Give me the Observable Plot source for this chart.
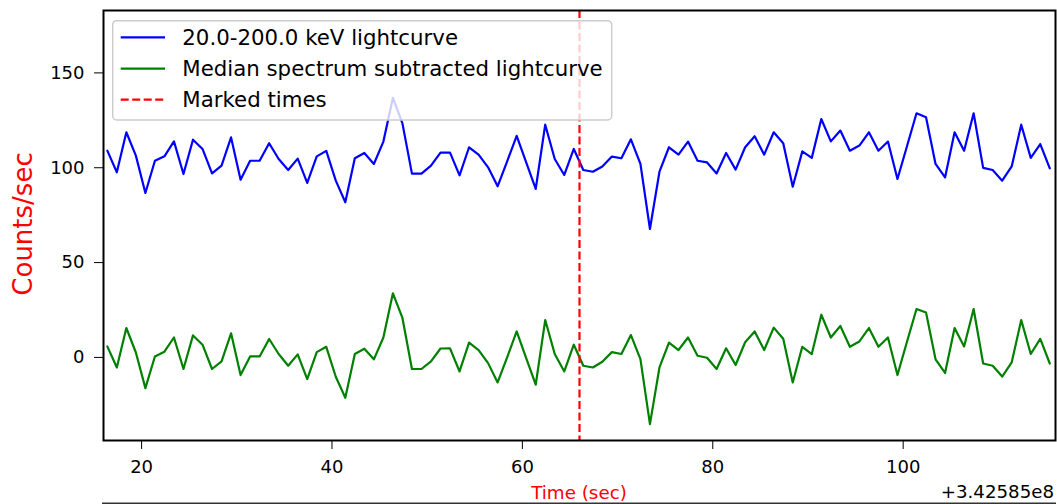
<!DOCTYPE html>
<html>
<head>
<meta charset="utf-8">
<script src="https://cdn.jsdelivr.net/npm/d3@7"></script>
<script src="https://cdn.jsdelivr.net/npm/@observablehq/plot@0.6"></script>
<style>
  html, body { margin: 0; padding: 0; background: #fff; }
  #chart { width: 1057px; height: 504px; overflow: hidden; }
</style>
</head>
<body>
<div id="chart"></div>
<script>
const times = [16.4,17.4,18.4,19.4,20.4,21.4,22.4,23.4,24.4,25.4,26.4,27.4,28.4,29.4,30.4,31.4,32.4,33.4,34.4,35.4,
  36.4,37.4,38.4,39.4,40.4,41.4,42.4,43.4,44.4,45.4,46.4,47.4,48.4,49.4,50.4,51.4,52.4,53.4,54.4,55.4,
  56.4,57.4,58.4,59.4,60.4,61.4,62.4,63.4,64.4,65.4,66.4,67.4,68.4,69.4,70.4,71.4,72.4,73.4,74.4,75.4,
  76.4,77.4,78.4,79.4,80.4,81.4,82.4,83.4,84.4,85.4,86.4,87.4,88.4,89.4,90.4,91.4,92.4,93.4,94.4,95.4,
  96.4,97.4,98.4,99.4,100.4,101.4,102.4,103.4,104.4,105.4,106.4,107.4,108.4,109.4,110.4,111.4,112.4,113.4,114.4,115.4];

const lightcurve = [109.0,97.6,118.7,106.4,86.7,103.7,106.0,113.9,96.7,114.8,109.9,97.0,101.1,116.0,93.7,103.7,103.7,112.9,104.6,98.8,
  104.8,92.0,106.0,108.9,93.2,81.8,105.0,107.8,102.0,113.8,136.8,123.4,96.9,96.9,101.1,108.0,108.0,96.0,110.8,106.9,
  100.2,90.2,103.4,116.8,102.8,88.8,122.7,104.6,96.2,109.9,98.8,97.9,100.7,105.9,105.0,115.0,102.0,67.7,97.9,110.8,
  106.9,113.8,103.7,102.8,97.0,107.8,99.0,110.8,116.6,106.9,118.7,112.9,90.0,108.6,105.2,125.7,113.9,119.6,109.0,111.7,
  118.7,109.0,113.8,94.1,111.3,128.7,126.6,102.0,94.9,118.7,109.0,128.7,99.9,98.8,93.2,100.7,122.7,105.2,112.5,99.7];

const subtracted = [5.8,-5.3,15.5,2.6,-16.2,0.5,3.0,10.5,-6.1,11.6,6.7,-6.1,-2.1,12.7,-9.3,0.5,0.5,9.7,1.8,-4.4,
  1.6,-11.4,2.8,5.6,-10.2,-21.3,1.8,4.6,-1.0,10.5,33.8,20.8,-6.1,-6.1,-2.1,4.7,4.8,-7.4,7.8,3.9,
  -3.0,-13.2,0.0,13.7,-0.4,-14.4,19.7,1.8,-7.4,6.7,-4.4,-5.3,-2.3,2.8,1.8,11.8,-0.9,-35.2,-5.3,7.8,
  3.9,10.5,0.9,-0.2,-6.1,4.8,-4.0,8.0,13.7,3.9,15.7,9.8,-13.2,5.6,1.8,22.5,10.5,16.6,5.6,8.4,
  15.5,5.6,10.5,-9.3,8.3,25.5,23.7,-1.0,-8.2,15.5,5.8,25.5,-3.2,-4.4,-10.1,-2.6,19.7,1.8,9.8,-3.2];

const markedTimes = [66.0];
const xTicks = [20, 40, 60, 80, 100];
const yTicks = [0, 50, 100, 150];
const legendLabels = ["20.0-200.0 keV lightcurve", "Median spectrum subtracted lightcurve", "Marked times"];
const legendColors = ["#0000ff", "#008000", "#ff0000"];
const xLabel = "Time (sec)";
const yLabel = "Counts/sec";
const offsetText = "+3.42585e8";

const blueRows = times.map((t, i) => ({t, v: lightcurve[i]}));
const greenRows = times.map((t, i) => ({t, v: subtracted[i]}));

const W = 1057, H = 504;
const mL = 103, mR = 2, mT = 10, mB = 64;

const chart = Plot.plot({
  width: W,
  height: H,
  marginLeft: mL,
  marginRight: mR,
  marginTop: mT,
  marginBottom: mB,
  style: {fontFamily: "DejaVu Sans", fontSize: "18px", color: "black", background: "white"},
  x: {domain: [16.0, 116.0]},
  y: {domain: [-43.8, 182.9]},
  marks: [
    Plot.line(blueRows, {x: "t", y: "v", stroke: legendColors[0], strokeWidth: 2.2}),
    Plot.line(greenRows, {x: "t", y: "v", stroke: legendColors[1], strokeWidth: 2.2}),
    Plot.ruleX(markedTimes, {stroke: legendColors[2], strokeWidth: 2.2, strokeDasharray: "8,3.5"}),
    Plot.frame({stroke: "black", strokeWidth: 2}),
    Plot.axisX({ticks: xTicks, tickSize: 9, tickPadding: 11, label: null, fontSize: 18, tickFormat: d3.format("d")}),
    Plot.axisY({ticks: yTicks, tickSize: 9, tickPadding: 10, label: null, fontSize: 18, tickFormat: d3.format("d")})
  ]
});

document.getElementById("chart").appendChild(chart);

const svg = d3.select(chart);
// legend
const lg = svg.append("g").attr("font-family", "DejaVu Sans").attr("font-size", "21.3px").attr("text-anchor", "start");
lg.append("rect").attr("x", 112.7).attr("y", 20.7).attr("width", 499).attr("height", 99.3)
  .attr("rx", 4).attr("fill", "white").attr("fill-opacity", 0.8)
  .attr("stroke", "#cccccc").attr("stroke-width", 1.5);
const rowY = [37.3, 68.6, 99.6];
legendLabels.forEach((lab, i) => {
  lg.append("line").attr("x1", 120.7).attr("x2", 165).attr("y1", rowY[i]).attr("y2", rowY[i])
    .attr("stroke", legendColors[i]).attr("stroke-width", 2.2)
    .attr("stroke-dasharray", i === 2 ? "8,3.5" : null);
  lg.append("text").attr("x", 182.3).attr("y", rowY[i] + 7.8).attr("text-anchor", "start")
    .attr("fill", "black").text(lab);
});

// axis labels
svg.append("text").attr("transform", "translate(32,224) rotate(-90)")
  .attr("text-anchor", "middle").attr("font-family", "DejaVu Sans").attr("font-size", "26px")
  .attr("fill", "red").text(yLabel);
svg.append("text").attr("x", 579).attr("y", 499)
  .attr("text-anchor", "middle").attr("font-family", "DejaVu Sans").attr("font-size", "18.3px")
  .attr("fill", "red").text(xLabel);
svg.append("text").attr("x", 1054).attr("y", 498)
  .attr("text-anchor", "end").attr("font-family", "DejaVu Sans").attr("font-size", "18.2px")
  .attr("fill", "black").text(offsetText);
// top spine of the axes below (cropped)
svg.append("line").attr("x1", 102).attr("x2", 1056).attr("y1", 503.3).attr("y2", 503.3)
  .attr("stroke", "#333").attr("stroke-width", 1.5);
</script>
</body>
</html>
